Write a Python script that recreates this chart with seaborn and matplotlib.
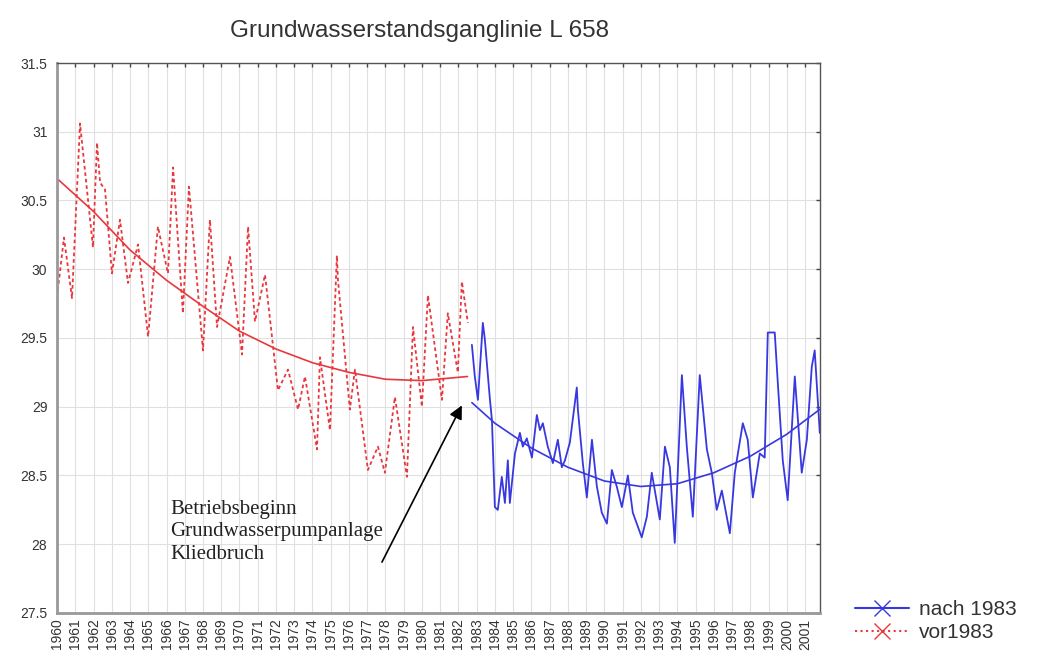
import pandas as pd
import matplotlib
matplotlib.use("Agg")
import matplotlib.pyplot as plt
from matplotlib.lines import Line2D
import seaborn as sns

# --- data (decimal years, water level) ---
vor_jahr = [1960.00, 1960.38, 1960.82, 1961.26, 1961.97, 1962.19, 1962.36, 1962.63, 1963.01,
            1963.45, 1963.89, 1964.44, 1964.99, 1965.53, 1965.64, 1966.08, 1966.36, 1966.90,
            1967.23, 1968.00, 1968.38, 1968.77, 1969.48, 1970.14, 1970.47, 1970.85, 1971.40,
            1972.11, 1972.66, 1973.21, 1973.59, 1974.25, 1974.41, 1974.96, 1975.34, 1975.40,
            1976.05, 1976.33, 1977.04, 1977.59, 1977.97, 1978.52, 1979.18, 1979.51, 1980.00,
            1980.33, 1981.10, 1981.42, 1981.97, 1982.19, 1982.52]
vor_stand = [29.80, 30.23, 29.79, 31.06, 30.16, 30.92, 30.63, 30.58, 29.97,
             30.36, 29.90, 30.18, 29.51, 30.31, 30.24, 29.97, 30.74, 29.68,
             30.60, 29.41, 30.36, 29.58, 30.09, 29.38, 30.31, 29.62, 29.96,
             29.12, 29.27, 28.98, 29.22, 28.69, 29.36, 28.83, 30.10, 29.92,
             28.98, 29.27, 28.54, 28.71, 28.52, 29.07, 28.49, 29.58, 29.00,
             29.81, 29.05, 29.68, 29.25, 29.91, 29.61]

nach_jahr = [1982.74, 1982.90, 1983.07, 1983.34, 1983.45, 1983.73, 1983.84, 1984.00, 1984.16,
             1984.38, 1984.55, 1984.71, 1984.82, 1985.10, 1985.37, 1985.53, 1985.75, 1986.03,
             1986.30, 1986.47, 1986.63, 1986.90, 1987.18, 1987.45, 1987.67, 1987.84, 1988.11,
             1988.49, 1988.55, 1988.82, 1989.04, 1989.32, 1989.59, 1989.86, 1990.14, 1990.41,
             1990.68, 1990.96, 1991.29, 1991.56, 1992.05, 1992.33, 1992.60, 1993.04, 1993.32,
             1993.59, 1993.86, 1994.25, 1994.52, 1994.85, 1995.23, 1995.62, 1995.89, 1996.16,
             1996.44, 1996.88, 1997.15, 1997.59, 1997.86, 1998.14, 1998.52, 1998.79, 1998.96,
             1999.34, 1999.51, 1999.78, 2000.05, 2000.44, 2000.82, 2001.10, 2001.37, 2001.53,
             2001.81]
nach_stand = [29.45, 29.22, 29.05, 29.61, 29.49, 29.05, 28.90, 28.27, 28.25,
              28.49, 28.30, 28.61, 28.30, 28.66, 28.81, 28.71, 28.77, 28.63,
              28.94, 28.83, 28.88, 28.71, 28.59, 28.76, 28.56, 28.61, 28.74,
              29.14, 28.98, 28.59, 28.34, 28.76, 28.42, 28.23, 28.15, 28.54,
              28.42, 28.27, 28.50, 28.23, 28.05, 28.20, 28.52, 28.18, 28.71,
              28.56, 28.01, 29.23, 28.71, 28.20, 29.23, 28.69, 28.52, 28.25,
              28.39, 28.08, 28.52, 28.88, 28.76, 28.34, 28.66, 28.63, 29.54,
              29.54, 29.17, 28.61, 28.32, 29.22, 28.52, 28.76, 29.29, 29.41,
              28.81]

# trend curves
vor_trend_jahr = [1960.0, 1962.0, 1964.0, 1966.0, 1968.0, 1970.0, 1972.0, 1974.0, 1976.0, 1978.0, 1980.0, 1982.5]
vor_trend = [30.66, 30.42, 30.14, 29.92, 29.73, 29.55, 29.42, 29.32, 29.25, 29.20, 29.19, 29.22]
nach_trend_jahr = [1982.74, 1984.0, 1986.0, 1988.0, 1990.0, 1992.0, 1994.0, 1996.0, 1998.0, 2000.0, 2001.8]
nach_trend = [29.03, 28.88, 28.70, 28.56, 28.46, 28.42, 28.44, 28.52, 28.64, 28.80, 28.98]

jahre = list(range(1960, 2002))
y_ticks = [27.5, 28, 28.5, 29, 29.5, 30, 30.5, 31, 31.5]

rot = '#e8383d'
blau = '#3838e0'

vor = pd.DataFrame({'Jahr': vor_jahr, 'Stand': vor_stand})
nach = pd.DataFrame({'Jahr': nach_jahr, 'Stand': nach_stand})
vor_t = pd.DataFrame({'Jahr': vor_trend_jahr, 'Stand': vor_trend})
nach_t = pd.DataFrame({'Jahr': nach_trend_jahr, 'Stand': nach_trend})

sns.set_style("white")
plt.rcParams['font.family'] = ['Liberation Sans', 'DejaVu Sans']

fig = plt.figure(figsize=(10.39, 6.66), dpi=100)
ax = fig.add_axes([0.0549, 0.0796, 0.7343, 0.8258])

sns.lineplot(data=vor, x='Jahr', y='Stand', ax=ax, color=rot, lw=1.3,
             linestyle=(0, (2, 1.6)), sort=False)
sns.lineplot(data=nach, x='Jahr', y='Stand', ax=ax, color=blau, lw=1.3, sort=False)
sns.lineplot(data=vor_t, x='Jahr', y='Stand', ax=ax, color=rot, lw=1.2, sort=False)
sns.lineplot(data=nach_t, x='Jahr', y='Stand', ax=ax, color=blau, lw=1.2, sort=False)

ax.set_xlim(1960, 2001.82)
ax.set_ylim(27.5, 31.5)
ax.set_xticks(jahre)
ax.set_xticklabels([str(j) for j in jahre], rotation=90, fontsize=10, color='#333333')
ax.set_yticks(y_ticks)
ax.set_yticklabels(['27.5', '28', '28.5', '29', '29.5', '30', '30.5', '31', '31.5'],
                   fontsize=10, color='#333333')
ax.set_xlabel('')
ax.set_ylabel('')
ax.grid(True, color='#e0e0e0', lw=0.8)
ax.tick_params(axis='both', direction='in', length=3, width=1, color='#444444',
               top=True, right=True, pad=4)
ax.tick_params(axis='y', pad=7)

for s in ['left', 'bottom']:
    ax.spines[s].set_color('#999999')
    ax.spines[s].set_linewidth(2)
for s in ['top', 'right']:
    ax.spines[s].set_color('#555555')
    ax.spines[s].set_linewidth(1)

fig.text(419 / 1039, 1 - 31 / 666, 'Grundwasserstandsganglinie L 658',
         ha='center', va='center', fontsize=17.5, color='#333333')

# annotation: text block and arrow
ax.text(1966.2, 28.09, 'Betriebsbeginn\nGrundwasserpumpanlage\nKliedbruch',
        fontsize=15, family=['Liberation Serif', 'DejaVu Serif'], color='#222222',
        ha='left', va='center', linespacing=1.25)
ax.annotate('', xy=(1982.19, 29.01), xytext=(1977.81, 27.87),
            arrowprops=dict(arrowstyle='-|>', color='black', lw=1.2,
                            mutation_scale=20, shrinkA=0, shrinkB=0))

handles = [Line2D([0], [0], color=blau, lw=1.5, marker='x', markersize=11),
           Line2D([0], [0], color=rot, lw=1.5, linestyle=':', marker='x', markersize=11)]
fig.legend(handles, ['nach 1983', 'vor1983'], loc='lower left',
           bbox_to_anchor=(836 / 1039, 5 / 666), frameon=False, fontsize=15,
           handlelength=2.6, labelspacing=0.2, handletextpad=0.5,
           labelcolor='#333333')

fig.savefig('out.png', dpi=100)
